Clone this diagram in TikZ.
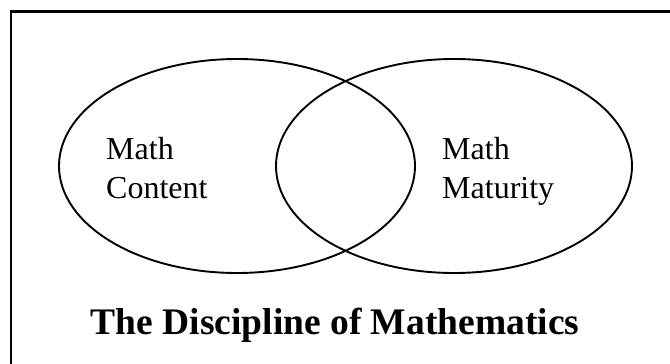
\documentclass[tikz,border=0pt]{standalone}
\usepackage{fontspec}
\setmainfont{Liberation Serif}
\begin{document}
\begin{tikzpicture}[x=1pt, y=-1pt]
    % --- 样式设置 ---
    \tikzstyle{frameline}=[line width=2.6pt, black]
    \tikzstyle{setline}=[line width=1.9pt, black]
    \tikzstyle{setlabel}=[anchor=base west, inner sep=0pt, font=\fontsize{32}{38}\selectfont]
    \tikzstyle{titlelabel}=[anchor=base, inner sep=0pt, font=\fontsize{37.5}{44}\selectfont\bfseries]

    % 0. 画布大小 (右边和下边的框线被裁掉)
    \useasboundingbox (0,0) rectangle (670,364);
    \clip (0,0) rectangle (670,364);

    % 1. 外框
    \draw[frameline] (11,11.5) rectangle (720,420);

    % 2. 两个集合 (椭圆)
    \draw[setline] (237,166) ellipse [x radius=178, y radius=107];
    \draw[setline] (454,166) ellipse [x radius=178, y radius=107];

    % 3. 集合标注
    \node[setlabel] (contentA) at (106,159) {Math};
    \node[setlabel] (contentB) at (106,198) {Content};
    \node[setlabel] (maturityA) at (442,159) {Math};
    \node[setlabel] (maturityB) at (442,198) {Maturity};

    % 4. 标题
    \node[titlelabel] (title) at (335,334) {The Discipline of Mathematics};

\end{tikzpicture}
\end{document}
